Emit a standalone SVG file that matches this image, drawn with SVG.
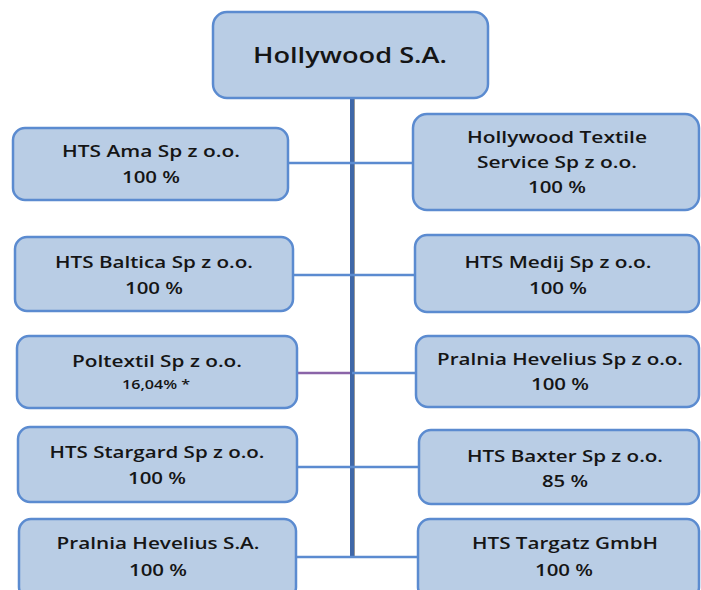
<svg xmlns="http://www.w3.org/2000/svg" width="701" height="590" viewBox="0 0 701 590">
<style>
.box{fill:#b9cde5;stroke:#5b8bd0;stroke-width:2.5}
.t{font-family:"Open Sans","Liberation Sans",sans-serif;font-weight:600;font-size:16px;fill:#151515;text-anchor:middle}
.big{font-size:21px}
.small{font-size:12px}
.c{stroke:#5b8bd0;stroke-width:2.5;fill:none}
</style>
<rect width="701" height="590" fill="#ffffff"/>
<g id="connectors">
<line x1="354" y1="98" x2="354" y2="558" stroke="#555" stroke-width="2" opacity="0.6"/>
<line x1="352" y1="98" x2="352" y2="558" stroke="#3f67a8" stroke-width="4"/>
<line class="c" x1="288" y1="163" x2="413" y2="163"/>
<line class="c" x1="293" y1="275" x2="415" y2="275"/>
<line x1="297" y1="373" x2="350" y2="373" stroke="#8a64a8" stroke-width="2.5"/>
<line class="c" x1="352" y1="373" x2="416" y2="373"/>
<line class="c" x1="297" y1="467" x2="419" y2="467"/>
<line class="c" x1="297" y1="557" x2="418" y2="557"/>
</g>
<g id="n-hollywood">
<rect class="box" x="213" y="12" width="275" height="86" rx="14"/>
<text class="t big" x="350" y="63" textLength="194" lengthAdjust="spacingAndGlyphs">Hollywood S.A.</text>
</g>
<g id="n-ama">
<rect class="box" x="13" y="128" width="275" height="72" rx="12"/>
<text class="t" x="151" y="157" textLength="178" lengthAdjust="spacingAndGlyphs">HTS Ama Sp z o.o.</text>
<text class="t" x="151" y="183" textLength="58" lengthAdjust="spacingAndGlyphs">100 %</text>
</g>
<g id="n-textile">
<rect class="box" x="413" y="114" width="286" height="96" rx="14"/>
<text class="t" x="557" y="143" textLength="180" lengthAdjust="spacingAndGlyphs">Hollywood Textile</text>
<text class="t" x="557" y="168" textLength="160" lengthAdjust="spacingAndGlyphs">Service Sp z o.o.</text>
<text class="t" x="557" y="193" textLength="58" lengthAdjust="spacingAndGlyphs">100 %</text>
</g>
<g id="n-baltica">
<rect class="box" x="15" y="237" width="278" height="74" rx="12"/>
<text class="t" x="154" y="268" textLength="198" lengthAdjust="spacingAndGlyphs">HTS Baltica Sp z o.o.</text>
<text class="t" x="154" y="294" textLength="58" lengthAdjust="spacingAndGlyphs">100 %</text>
</g>
<g id="n-medij">
<rect class="box" x="415" y="235" width="284" height="77" rx="12"/>
<text class="t" x="558" y="268" textLength="187" lengthAdjust="spacingAndGlyphs">HTS Medij Sp z o.o.</text>
<text class="t" x="558" y="294" textLength="58" lengthAdjust="spacingAndGlyphs">100 %</text>
</g>
<g id="n-poltextil">
<rect class="box" x="17" y="336" width="280" height="72" rx="12"/>
<text class="t" x="157" y="367" textLength="170" lengthAdjust="spacingAndGlyphs">Poltextil Sp z o.o.</text>
<text class="t small" x="156" y="389" textLength="68" lengthAdjust="spacingAndGlyphs">16,04% *</text>
</g>
<g id="n-pralnia-sp">
<rect class="box" x="416" y="336" width="283" height="71" rx="12"/>
<text class="t" x="560" y="365" textLength="246" lengthAdjust="spacingAndGlyphs">Pralnia Hevelius Sp z o.o.</text>
<text class="t" x="560" y="390" textLength="58" lengthAdjust="spacingAndGlyphs">100 %</text>
</g>
<g id="n-stargard">
<rect class="box" x="18" y="427" width="279" height="75" rx="12"/>
<text class="t" x="157" y="458" textLength="215" lengthAdjust="spacingAndGlyphs">HTS Stargard Sp z o.o.</text>
<text class="t" x="157" y="484" textLength="58" lengthAdjust="spacingAndGlyphs">100 %</text>
</g>
<g id="n-baxter">
<rect class="box" x="419" y="430" width="280" height="74" rx="12"/>
<text class="t" x="565" y="462" textLength="196" lengthAdjust="spacingAndGlyphs">HTS Baxter Sp z o.o.</text>
<text class="t" x="565" y="487" textLength="46" lengthAdjust="spacingAndGlyphs">85 %</text>
</g>
<g id="n-pralnia-sa">
<rect class="box" x="19" y="519" width="277" height="80" rx="12"/>
<text class="t" x="158" y="549" textLength="203" lengthAdjust="spacingAndGlyphs">Pralnia Hevelius S.A.</text>
<text class="t" x="158" y="576" textLength="58" lengthAdjust="spacingAndGlyphs">100 %</text>
</g>
<g id="n-targatz">
<rect class="box" x="418" y="519" width="281" height="80" rx="12"/>
<text class="t" x="565" y="549" textLength="186" lengthAdjust="spacingAndGlyphs">HTS Targatz GmbH</text>
<text class="t" x="564" y="576" textLength="58" lengthAdjust="spacingAndGlyphs">100 %</text>
</g>
</svg>
